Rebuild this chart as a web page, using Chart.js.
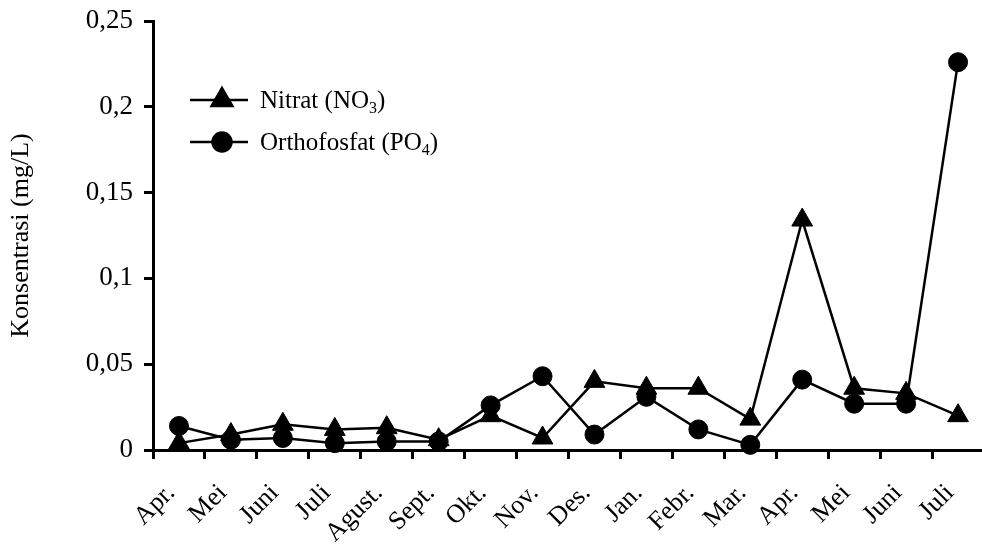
<!DOCTYPE html>
<html>
<head>
<meta charset="utf-8">
<script src="https://cdn.jsdelivr.net/npm/chart.js@4/dist/chart.umd.min.js"></script>
<style>
  html, body { margin: 0; padding: 0; background: #fff; overflow: hidden; }
  /* a little wider than the window so the x axis runs to the right edge */
  #wrap { width: 997px; height: 545px; position: relative; }
</style>
</head>
<body>
<div id="wrap"><canvas id="myChart"></canvas></div>
<script>
// months (April year 1 .. July year 2)
const months = ['Apr.', 'Mei', 'Juni', 'Juli', 'Agust.', 'Sept.', 'Okt.', 'Nov.', 'Des.', 'Jan.', 'Febr.', 'Mar.', 'Apr.', 'Mei', 'Juni', 'Juli'];
const nitrat = [0.004, 0.009, 0.015, 0.012, 0.013, 0.006, 0.020, 0.007, 0.040, 0.036, 0.036, 0.018, 0.134, 0.036, 0.033, 0.020];
const fosfat = [0.014, 0.006, 0.007, 0.004, 0.005, 0.005, 0.026, 0.043, 0.009, 0.031, 0.012, 0.003, 0.041, 0.027, 0.027, 0.226];
const yTicks = [0, 0.05, 0.1, 0.15, 0.2, 0.25];

const serif = "'Liberation Serif', 'DejaVu Serif', serif";

// legend drawn inside the plot, with subscripts
const legendPlugin = {
  id: 'subLegend',
  afterDraw(chart) {
    let ctx = chart.ctx;
    let rows = [
      { style: 'triangle', text: 'Nitrat (NO', sub: '3', y: 100 },
      { style: 'circle', text: 'Orthofosfat (PO', sub: '4', y: 142 }
    ];
    ctx.save();
    rows.forEach(function (r) {
      ctx.strokeStyle = '#000';
      ctx.lineWidth = 2.5;
      ctx.beginPath();
      ctx.moveTo(190, r.y);
      ctx.lineTo(248, r.y);
      ctx.stroke();
      ctx.fillStyle = '#000';
      Chart.helpers.drawPoint(ctx, { pointStyle: r.style, radius: r.style == 'triangle' ? 12 : 9.5, borderWidth: 1 }, 222, r.y);
      ctx.fill();
      ctx.font = '25px ' + serif;
      ctx.textBaseline = 'middle';
      ctx.textAlign = 'left';
      ctx.fillText(r.text, 260, r.y + 1);
      let w = ctx.measureText(r.text).width;
      ctx.font = '16px ' + serif;
      ctx.fillText(r.sub, 260 + w, r.y + 9);
      let sw = ctx.measureText(r.sub).width;
      ctx.font = '25px ' + serif;
      ctx.fillText(')', 260 + w + sw, r.y + 1);
    });
    ctx.restore();
  }
};

let ctx = document.getElementById('myChart');
let myChart = new Chart(ctx, {
  type: 'line',
  data: {
    labels: months,
    datasets: [
      {
        label: 'Nitrat (NO3)',
        data: nitrat,
        borderColor: '#000',
        backgroundColor: '#000',
        borderWidth: 2.5,
        pointStyle: 'triangle',
        pointRadius: 12,
        pointBorderWidth: 1,
        clip: false
      },
      {
        label: 'Orthofosfat (PO4)',
        data: fosfat,
        borderColor: '#000',
        backgroundColor: '#000',
        borderWidth: 2.5,
        pointStyle: 'circle',
        pointRadius: 9.5,
        pointBorderWidth: 1,
        clip: false
      }
    ]
  },
  options: {
    responsive: true,
    maintainAspectRatio: false,
    animation: false,
    layout: { padding: { top: 21, right: 0, left: 0, bottom: 0 } },
    plugins: {
      legend: { display: false },
      tooltip: { enabled: false }
    },
    scales: {
      x: {
        offset: true,
        grid: { offset: true, drawOnChartArea: false, color: '#000', tickLength: 9, tickWidth: 3 },
        border: { color: '#000', width: 3 },
        ticks: {
          color: '#000',
          font: { family: serif, size: 26 },
          minRotation: 45,
          maxRotation: 45,
          autoSkip: false,
          labelOffset: -8,
          padding: 19
        },
        afterFit(scale) {
          scale.height = 95;
          scale.paddingLeft = 0;
          scale.paddingRight = 0;
        }
      },
      y: {
        min: 0,
        max: 0.25,
        afterBuildTicks(scale) { scale.ticks = yTicks.map(v => ({ value: v })); },
        grid: { drawOnChartArea: false, color: '#000', tickLength: 9, tickWidth: 3 },
        border: { color: '#000', width: 3 },
        ticks: {
          color: '#000',
          font: { family: serif, size: 27 },
          padding: 11,
          callback: function (value) {
            return parseFloat(value.toFixed(2)).toString().replace('.', ',');
          }
        },
        title: {
          display: true,
          text: 'Konsentrasi (mg/L)',
          color: '#000',
          font: { family: serif, size: 26 },
          padding: { top: 6, bottom: 0 }
        },
        afterFit(scale) {
          scale.width = 153;
          scale.paddingTop = 0;
          scale.paddingBottom = 0;
        }
      }
    }
  },
  plugins: [legendPlugin]
});
</script>
</body>
</html>
